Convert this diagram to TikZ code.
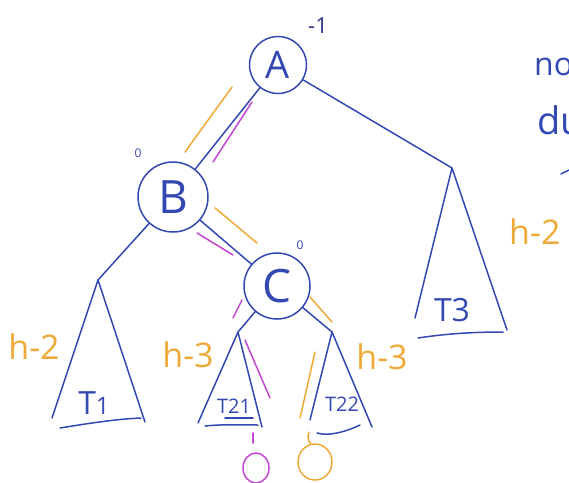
\documentclass[tikz,border=0pt]{standalone}
\usepackage{fontspec}
\setmainfont{Open Sans}
\definecolor{ink}{RGB}{52,72,178}
\definecolor{amber}{RGB}{238,170,56}
\definecolor{plum}{RGB}{196,70,210}
\begin{document}
\begin{tikzpicture}[x=1pt,y=-1pt,
  vertex/.style={circle, draw=ink, line width=1.5pt, inner sep=0pt, text=ink},
  edge/.style={draw=ink, line width=1.5pt, line cap=round, line join=round},
  hlamber/.style={draw=amber, line width=1.5pt, line cap=round},
  hlplum/.style={draw=plum, line width=1.5pt, line cap=round},
  height/.style={text=amber, inner sep=0pt, font=\fontsize{34}{34}\selectfont},
  bf/.style={text=ink, inner sep=0pt, font=\fontsize{12}{12}\selectfont},
  tname/.style={text=ink, inner sep=0pt, font=\fontsize{32}{32}\selectfont},
  tsmall/.style={text=ink, inner sep=0pt, font=\fontsize{20}{20}\selectfont}]
\useasboundingbox (0,0) rectangle (569,482);
\clip (0,0) rectangle (569,482);

% tree nodes
\node[vertex, minimum size=57pt, font=\fontsize{38}{38}\selectfont] (A) at (278,65) {A};
\node[vertex, minimum size=70pt, font=\fontsize{46}{46}\selectfont] (B) at (173,197) {B};
\node[vertex, minimum size=66pt, font=\fontsize{46}{46}\selectfont] (C) at (277,286) {C};

% balance factors
\node[text=ink!75!black, inner sep=0pt, font=\fontsize{22}{22}\selectfont] (bfA) at (318,26) {-1};
\node[bf] (bfB) at (138,153) {0};
\node[bf] (bfC) at (300,245) {0};

% subtree apexes and corners
\coordinate (t1top) at (98,280);
\coordinate (t1l) at (52,418);
\coordinate (t1r) at (145,422);
\coordinate (t3top) at (452,168);
\coordinate (t3l) at (415,318);
\coordinate (t3r) at (507,330);
\coordinate (t21top) at (238,332);
\coordinate (t21l) at (198,423);
\coordinate (t21r) at (262,427);
\coordinate (t22top) at (332,332);
\coordinate (t22l) at (310,420);
\coordinate (t22r) at (372,427);

% edges
\draw[edge] (A) -- (B);
\draw[edge] (A) -- (t3top);
\draw[edge] (B) -- (t1top);
\draw[edge] (B) -- (C);
\draw[edge] (C) -- (t21top);
\draw[edge] (C) -- (t22top);

% subtrees
\draw[edge] (t1l) -- (t1top) -- (t1r);
\draw[edge] (60,428) .. controls (85,424) and (115,419) .. (141,418);
\draw[edge] (t3l) -- (t3top) -- (t3r);
\draw[edge] (418,338) .. controls (450,333) and (480,332) .. (503,332);
\draw[edge] (t21l) -- (t21top) -- (t21r);
\draw[edge] (205,426) .. controls (225,424) and (245,425) .. (258,425);
\draw[edge] (t22l) -- (t22top) -- (t22r);
\draw[edge] (317,433) .. controls (330,437) and (350,430) .. (360,425);
\draw[edge] (225,418) -- (253,418);

% subtree names
\node[tname] (n1) at (94,403) {T\fontsize{24}{24}\selectfont 1};
\node[tname] (n3) at (452,310) {T3};
\node[tsmall] (n21) at (234,406) {T21};
\node[tsmall] (n22) at (342,404) {T22};

% heights
\node[height] (h1) at (34,347) {h-2};
\node[height] (h21) at (188,355) {h-3};
\node[height] (h22) at (382,357) {h-3};
\node[height, anchor=west] (h3) at (509,232) {h-2};

% height-change strokes
\draw[hlamber] (185,152) -- (232,87);
\draw[hlplum] (213,162) -- (252,102);
\draw[hlamber] (215,208) -- (257,243);
\draw[hlplum] (197,233) -- (233,255);
\draw[hlplum] (242,300) -- (233,318);
\draw[hlamber] (310,297) -- (332,322);
\draw[hlplum] (245,340) -- (270,398);
\draw[hlamber] (315,352) -- (300,418);

% new leaves
\draw[hlplum] (253,433) -- (253,443);
\draw[hlplum] (256,468) ellipse (13pt and 15pt);
\draw[hlamber] (309,432) .. controls (307,437) and (308,441) .. (311,444);
\draw[hlamber] (315,462) ellipse (17pt and 18pt);

% note at the right margin
\node[text=ink, anchor=base west, inner sep=0pt, font=\fontsize{32}{32}\selectfont] (note1) at (534,75) {no};
\node[text=ink, anchor=base west, inner sep=0pt, font=\fontsize{38}{38}\selectfont] (note2) at (537,134) {du};
\draw[edge] (561,174) -- (569,170);
\end{tikzpicture}
\end{document}
